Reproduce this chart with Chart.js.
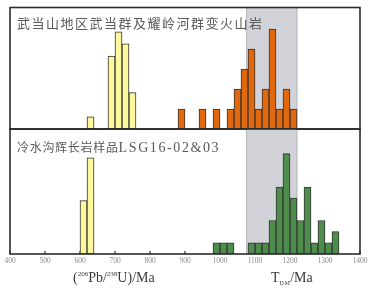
<!DOCTYPE html>
<html>
<head>
<meta charset="utf-8">
<script src="https://cdn.jsdelivr.net/npm/chart.js@4.4.1/dist/chart.umd.min.js"></script>
<style>
  html, body { margin: 0; padding: 0; background: #fff; }
  #wrap { position: relative; width: 377px; height: 292px; overflow: hidden; }
  canvas { position: absolute; left: 0; }
  #topChart { top: 0; }
  #lowChart { top: 123px; }
  .lbl { position: absolute; white-space: nowrap; }
  .ttl { font-family: "Noto Sans CJK SC"; color: #5a5a5a; }
  .serif { font-family: "Liberation Serif", "DejaVu Serif", serif; color: #3a3a3a; }
</style>
</head>
<body>
<div id="wrap">
  <canvas id="topChart" width="377" height="135"></canvas>
  <canvas id="lowChart" width="377" height="169"></canvas>
  <div class="lbl ttl" style="left:17px; top:16px; font-size:13px; line-height:14px; letter-spacing:1.5px;">武当山地区武当群及耀岭河群变火山岩</div>
  <div class="lbl ttl" style="left:17px; top:140px; font-size:12px; line-height:14px; letter-spacing:0.7px;">冷水沟辉长岩样品<span class="serif" style="font-size:14px; letter-spacing:1.6px; color:#5a5a5a;">LSG16-02&amp;03</span></div>
  <div class="lbl serif" style="left:73px; top:270px; font-size:14px; line-height:16px;">(<span style="font-size:7px; position:relative; top:-6px;">206</span>Pb/<span style="font-size:7px; position:relative; top:-6px;">238</span>U)/Ma</div>
  <div class="lbl serif" style="left:271px; top:270px; font-size:14px; line-height:16px;">T<span style="font-size:6px; position:relative; top:3px; letter-spacing:0.5px;">DM</span>/Ma</div>
</div>
<script>
// histogram bins (left edge, Ma) and counts
const binWidth = 20;
const xMin = 400;
const xMax = 1400;
const xTicks = [400, 500, 600, 700, 800, 900, 1000, 1100, 1200, 1300, 1400];

// upper panel: Wudang group / Yaolinghe group volcanics
const upperUPbBins = [620, 680, 700, 720, 740];
const upperUPbCounts = [1, 6, 8, 7, 3];
const upperTdmBins = [880, 940, 980, 1020, 1040, 1060, 1080, 1100, 1120, 1140, 1160, 1180, 1200];
const upperTdmCounts = [1, 1, 1, 1, 2, 3, 4, 1, 2, 5, 1, 2, 1];

// lower panel: Lengshuigou gabbro LSG16-02&03
const lowerUPbBins = [600, 620];
const lowerUPbCounts = [5, 9];
const lowerTdmBins = [980, 1000, 1020, 1080, 1100, 1120, 1140, 1160, 1180, 1200, 1220, 1240, 1260, 1280, 1300, 1320];
const lowerTdmCounts = [1, 1, 1, 1, 1, 1, 3, 6, 9, 5, 3, 6, 1, 3, 1, 2];

// shaded T_DM range
const bandRange = [1076, 1220];

function toPoints(bins, counts) {
    return bins.map((b, i) => ({ x: b + binWidth / 2, y: counts[i] }));
}

function barSet(bins, counts, color, axis) {
    return {
        data: toPoints(bins, counts),
        backgroundColor: color,
        borderColor: '#333333',
        borderWidth: 1,
        borderSkipped: false,
        barPercentage: 1,
        categoryPercentage: 1,
        grouped: false,
        yAxisID: axis
    };
}

const panelDecor = {
    id: 'panelDecor',
    beforeDatasetsDraw(chart, args, opts) {
        const ctx = chart.ctx;
        const a = chart.chartArea;
        const x = chart.scales.x;
        const x0 = x.getPixelForValue(bandRange[0]);
        const x1 = x.getPixelForValue(bandRange[1]);
        ctx.save();
        ctx.fillStyle = '#d2d2d9';
        ctx.fillRect(x0, a.top, x1 - x0, a.bottom - a.top);
        ctx.strokeStyle = '#b3b3bb';
        ctx.lineWidth = 1;
        ctx.beginPath();
        ctx.moveTo(x0, a.top); ctx.lineTo(x0, a.bottom);
        ctx.moveTo(x1, a.top); ctx.lineTo(x1, a.bottom);
        ctx.stroke();
        if (opts.innerTicks) {
            ctx.strokeStyle = '#333';
            ctx.lineWidth = 1.2;
            ctx.beginPath();
            xTicks.forEach(v => {
                const px = x.getPixelForValue(v);
                ctx.moveTo(px, a.bottom);
                ctx.lineTo(px, a.bottom - 3);
            });
            ctx.stroke();
        }
        ctx.restore();
    },
    afterDatasetsDraw(chart) {
        const ctx = chart.ctx;
        const a = chart.chartArea;
        ctx.save();
        ctx.strokeStyle = '#2b2b2b';
        ctx.lineWidth = 1.6;
        ctx.strokeRect(a.left, a.top, a.right - a.left, a.bottom - a.top);
        ctx.restore();
    }
};

function xScale(show) {
    return {
        type: 'linear',
        min: xMin,
        max: xMax,
        offset: false,
        display: show,
        afterBuildTicks: axis => { axis.ticks = xTicks.map(v => ({ value: v })); },
        grid: { display: false, drawTicks: false, offset: false },
        border: { display: false },
        ticks: {
            autoSkip: false,
            maxRotation: 0,
            padding: 3,
            color: '#8a8a8a',
            font: { family: 'Liberation Serif', size: 7.5 },
            callback: v => String(v)
        }
    };
}

function hiddenY(max) {
    return { type: 'linear', min: 0, max: max, display: false };
}

const commonOptions = {
    responsive: false,
    animation: false,
    plugins: { legend: { display: false }, tooltip: { enabled: false } }
};

new Chart(document.getElementById('topChart').getContext('2d'), {
    type: 'bar',
    data: {
        datasets: [
            barSet(upperUPbBins, upperUPbCounts, '#fdf89b', 'yU'),
            barSet(upperTdmBins, upperTdmCounts, '#e2680d', 'yT')
        ]
    },
    options: Object.assign({}, commonOptions, {
        layout: { padding: { left: 10, right: 17, top: 7.5, bottom: 6 } },
        scales: { x: xScale(false), yU: hiddenY(10), yT: hiddenY(6.08) },
        plugins: Object.assign({}, commonOptions.plugins, { panelDecor: { innerTicks: false } })
    }),
    plugins: [panelDecor]
});

new Chart(document.getElementById('lowChart').getContext('2d'), {
    type: 'bar',
    data: {
        datasets: [
            barSet(lowerUPbBins, lowerUPbCounts, '#fdf89b', 'yU'),
            barSet(lowerTdmBins, lowerTdmCounts, '#4e8d4c', 'yT')
        ]
    },
    options: Object.assign({}, commonOptions, {
        layout: { padding: { left: 10, right: 17, top: 6, bottom: 23 } },
        scales: { x: xScale(true), yU: hiddenY(11.7), yT: hiddenY(11.2) },
        plugins: Object.assign({}, commonOptions.plugins, { panelDecor: { innerTicks: true } })
    }),
    plugins: [panelDecor]
});
</script>
</body>
</html>
